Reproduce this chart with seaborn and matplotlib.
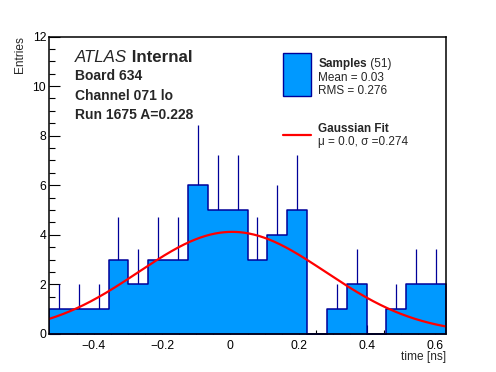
import numpy as np
import pandas as pd
import matplotlib
matplotlib.use("Agg")
import matplotlib.pyplot as plt
from matplotlib.patches import Rectangle
from matplotlib.lines import Line2D
from matplotlib.ticker import MultipleLocator
import seaborn as sns

# ---- data ----
x_min, x_max, n_bins = -0.531, 0.631, 20
counts = [1, 1, 1, 3, 2, 3, 3, 6, 5, 5, 3, 4, 5, 0, 1, 2, 0, 1, 2, 2]
fit_amp, fit_mu, fit_sigma = 4.12, 0.005, 0.274
x_ticks = [-0.4, -0.2, 0.0, 0.2, 0.4, 0.6]
y_ticks = [0, 2, 4, 6, 8, 10, 12]
info_lines = ["Board 634", "Channel 071 lo", "Run 1675 A=0.228"]

FILL = "#0099ff"
EDGE = "#000099"

sns.set_style("ticks")
plt.rcParams["font.family"] = ["Liberation Sans", "DejaVu Sans"]

W, H = 496, 372
fig = plt.figure(figsize=(W / 100, H / 100), dpi=100)
L, R, T, B = 49, 446, 36.5, 334
ax = fig.add_axes([L / W, 1 - B / H, (R - L) / W, (B - T) / H])

edges = np.linspace(x_min, x_max, n_bins + 1)
centers = 0.5 * (edges[:-1] + edges[1:])
df = pd.DataFrame({"time": centers, "n": counts})
cnt = np.asarray(counts, float)
mask = cnt > 0
ax.vlines(centers[mask], cnt[mask], cnt[mask] + np.sqrt(cnt[mask]),
          color=EDGE, lw=0.9, zorder=1)
sns.histplot(data=df, x="time", weights="n", bins=n_bins,
             binrange=(x_min, x_max), element="step",
             fill=True, color=FILL, alpha=1, edgecolor=EDGE, linewidth=1.1,
             ax=ax, zorder=2)

xs = np.linspace(x_min, x_max, 400)
ys = fit_amp * np.exp(-0.5 * ((xs - fit_mu) / fit_sigma) ** 2)
sns.lineplot(x=xs, y=ys, color="red", lw=1.6, ax=ax, zorder=3)

ax.set_xlim(x_min, x_max)
ax.set_ylim(0, 12)
ax.set_xticks(x_ticks)
ax.set_xticklabels(["\u22120.4", "\u22120.2", "0", "0.2", "0.4", "0.6"])
ax.set_yticks(y_ticks)
ax.xaxis.set_minor_locator(MultipleLocator(0.05))
ax.yaxis.set_minor_locator(MultipleLocator(0.5))
ax.tick_params(axis="both", which="both", direction="in", width=0.8,
               labelsize=8.8, colors="black")
ax.tick_params(axis="x", which="major", length=6.8, pad=4.0)
ax.tick_params(axis="x", which="minor", length=3.2)
ax.tick_params(axis="y", which="major", length=7.6, pad=2.0)
ax.tick_params(axis="y", which="minor", length=4.0)
for s in ax.spines.values():
    s.set_visible(True)
    s.set_linewidth(1.1)
    s.set_color("black")
    s.set_zorder(5)
ax.set_xlabel("")
ax.set_ylabel("")


def px(x, y):
    return x / W, 1 - y / H


fig.text(*px(446, 360.3), "time [ns]", ha="right", va="baseline", fontsize=8.6)
fig.text(*px(19.5, 36.5), "Entries", rotation=90, ha="center", va="top",
         fontsize=8.6)

t1 = fig.text(*px(75, 62.3), "ATLAS", style="italic", fontsize=12.2,
              va="baseline")
ax.annotate(" Internal", xy=(1, 0), xycoords=t1, fontsize=12.2,
            fontweight="bold", va="bottom")
for i, s in enumerate(info_lines):
    fig.text(*px(75, 80 + i * 19.65), s, fontsize=10, fontweight="bold",
             va="baseline")

# legend
rx0, ry1 = px(283.3, 96)
rx1, ry0 = px(311, 53.3)
fig.patches.append(Rectangle((rx0, ry1), rx1 - rx0, ry0 - ry1,
                             transform=fig.transFigure, facecolor=FILL,
                             edgecolor=EDGE, lw=1.0))
lx0, ly = px(283.3, 135)
lx1, _ = px(311, 135)
fig.lines.append(Line2D([lx0, lx1], [ly, ly], transform=fig.transFigure,
                        color="red", lw=1.6))
t2 = fig.text(*px(318.3, 66.7), "Samples", fontsize=8.5, fontweight="bold",
              va="baseline")
ax.annotate(" (51)", xy=(1, 0), xycoords=t2, fontsize=8.5, va="bottom")
fig.text(*px(318.3, 81), "Mean = 0.03", fontsize=8.5, va="baseline")
fig.text(*px(318.3, 93.5), "RMS = 0.276", fontsize=8.5, va="baseline")
fig.text(*px(318.3, 131.7), "Gaussian Fit", fontsize=8.5, fontweight="bold",
         va="baseline")
fig.text(*px(318.3, 145), "\u03bc = 0.0, \u03c3 =0.274", fontsize=8.5,
         va="baseline")

fig.savefig("out.png", dpi=100)
